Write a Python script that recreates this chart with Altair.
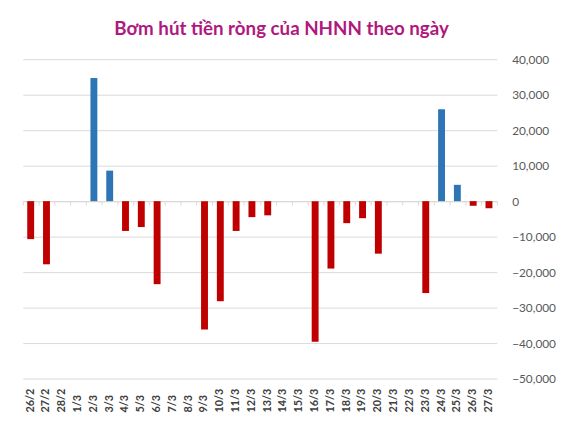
import altair as alt
import pandas as pd

dates = ["26/2", "27/2", "28/2", "1/3", "2/3", "3/3", "4/3", "5/3", "6/3", "7/3",
         "8/3", "9/3", "10/3", "11/3", "12/3", "13/3", "14/3", "15/3", "16/3", "17/3",
         "18/3", "19/3", "20/3", "21/3", "22/3", "23/3", "24/3", "25/3", "26/3", "27/3"]
values = [-10700, -17800, 0, 0, 34700, 8600, -8400, -7300, -23400, 0,
          0, -36200, -28200, -8400, -4500, -4000, 0, 0, -39600, -19000,
          -6200, -4800, -14800, 0, 0, -25900, 25900, 4600, -1300, -2000]
y_ticks = [40000, 30000, 20000, 10000, 0, -10000, -20000, -30000, -40000, -50000]

df = pd.DataFrame({"date": dates, "value": values})

FONT = "Lato"
GRID = "#D9D9D9"

x_scale = alt.Scale(domain=dates, paddingInner=0, paddingOuter=0)
y_scale = alt.Scale(domain=[-50000, 40000], nice=False)

bars = alt.Chart(df).mark_bar(size=7).encode(
    x=alt.X("date:N", sort=dates, scale=x_scale,
            axis=alt.Axis(orient="bottom", title=None, domain=False, ticks=False,
                          labelAngle=270, labelAlign="left", labelBaseline="middle",
                          labelPadding=34, labelFont=FONT, labelFontSize=11,
                          labelFontWeight="bold", labelColor="#404040")),
    y=alt.Y("value:Q", scale=y_scale,
            axis=alt.Axis(orient="right", title=None, values=y_ticks, format=",.0f",
                          domain=False, ticks=False, grid=True, gridColor=GRID,
                          labelFont=FONT, labelFontSize=12, labelColor="#595959",
                          labelAlign="left", labelPadding=15)),
    color=alt.condition(alt.datum.value > 0, alt.value("#2E75B6"), alt.value("#C00000")),
)

zero = alt.Chart(df).mark_tick(opacity=0).encode(
    x=alt.X("date:N", sort=dates, scale=x_scale,
            axis=alt.Axis(orient="bottom", offset=-180, title=None, labels=False,
                          domain=True, domainColor=GRID, ticks=True, tickColor=GRID,
                          tickSize=4, tickBand="extent", grid=False)),
)

chart = alt.layer(zero, bars).resolve_axis(x="independent").properties(
    width=481,
    height=324,
    padding={"left": 14, "top": 9, "right": 0, "bottom": 0},
    title=alt.TitleParams("Bơm hút tiền ròng của NHNN theo ngày", font=FONT,
                          fontSize=19, fontWeight="bold", color="#B0187E",
                          anchor="middle", offset=15, dx=22),
).configure_view(stroke=None)

chart.save("out.html", embed_options={"renderer": "svg", "actions": False})
